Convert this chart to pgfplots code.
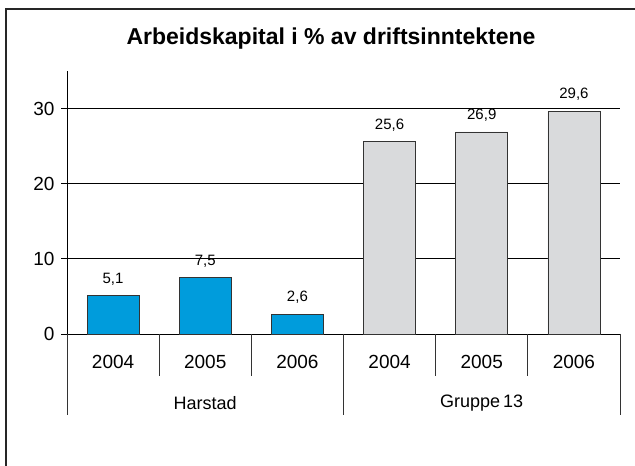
\documentclass[border=0pt]{standalone}
\usepackage{pgfplots}
\pgfplotsset{compat=1.18}
\usepackage{fontspec}
\setmainfont{Liberation Sans}
\definecolor{barblue}{HTML}{009CDC}
\definecolor{bargray}{HTML}{D9DADC}
\begin{document}
\begin{tikzpicture}[x=1pt,y=1pt]
\useasboundingbox (0,0) rectangle (635,466);
\draw[line width=1.5pt, black!85] (6,0) -- (6,457) -- (635,457);
\node[font=\fontsize{23}{26}\selectfont\bfseries, anchor=base] at (331,421) {Arbeidskapital i \% av driftsinntektene};
\begin{axis}[
  at={(67pt,132pt)}, anchor=south west,
  scale only axis, width=553pt, height=263pt,
  xmin=-0.5, xmax=5.5, ymin=0, ymax=35,
  axis lines*=left,
  axis line style={black, line width=0.8pt},
  ytick={0,10,20,30},
  ymajorgrids, grid style={black, line width=0.9pt},
  tick align=outside, major tick length=6pt,
  ytick style={black, line width=0.8pt},
  xtick={0,1,2,3,4,5},
  xticklabels={2004,2005,2006,2004,2005,2006},
  xtick style={draw=none},
  tick label style={font=\fontsize{19}{22}\selectfont},
  xticklabel style={yshift=-12pt},
  yticklabel style={xshift=-3pt},
  /pgf/number format/assume math mode=true,
  bar width=52pt,
  nodes near coords,
  nodes near coords style={font=\fontsize{15}{17}\selectfont, yshift=7pt,
    /pgf/number format/.cd, fixed, fixed zerofill, precision=1, use comma},
  clip=false,
]
\addplot[ybar, bar shift=0pt, fill=barblue, draw=black!80, line width=0.7pt]
  coordinates {(0,5.1) (1,7.5) (2,2.6)};
\addplot[ybar, bar shift=0pt, fill=bargray, draw=black!80, line width=0.7pt]
  coordinates {(3,25.6) (4,26.9) (5,29.6)};
\draw[black!80, line width=0.8pt] (axis cs:0.5,0) -- ([yshift=-42pt]axis cs:0.5,0);
\draw[black!80, line width=0.8pt] (axis cs:1.5,0) -- ([yshift=-42pt]axis cs:1.5,0);
\draw[black!80, line width=0.8pt] (axis cs:3.5,0) -- ([yshift=-42pt]axis cs:3.5,0);
\draw[black!80, line width=0.8pt] (axis cs:4.5,0) -- ([yshift=-42pt]axis cs:4.5,0);
\draw[black!80, line width=0.8pt] (axis cs:-0.5,0) -- ([yshift=-81pt]axis cs:-0.5,0);
\draw[black!80, line width=0.8pt] (axis cs:2.5,0) -- ([yshift=-81pt]axis cs:2.5,0);
\draw[black!80, line width=0.8pt] (axis cs:5.5,0) -- ([yshift=-81pt]axis cs:5.5,0);
\node[font=\fontsize{18}{20}\selectfont] at ([yshift=-69pt]axis cs:1,0) {Harstad};
\node[font=\fontsize{18}{20}\selectfont] at ([yshift=-69pt]axis cs:4,0) {Gruppe\,13};
\end{axis}
\end{tikzpicture}
\end{document}
